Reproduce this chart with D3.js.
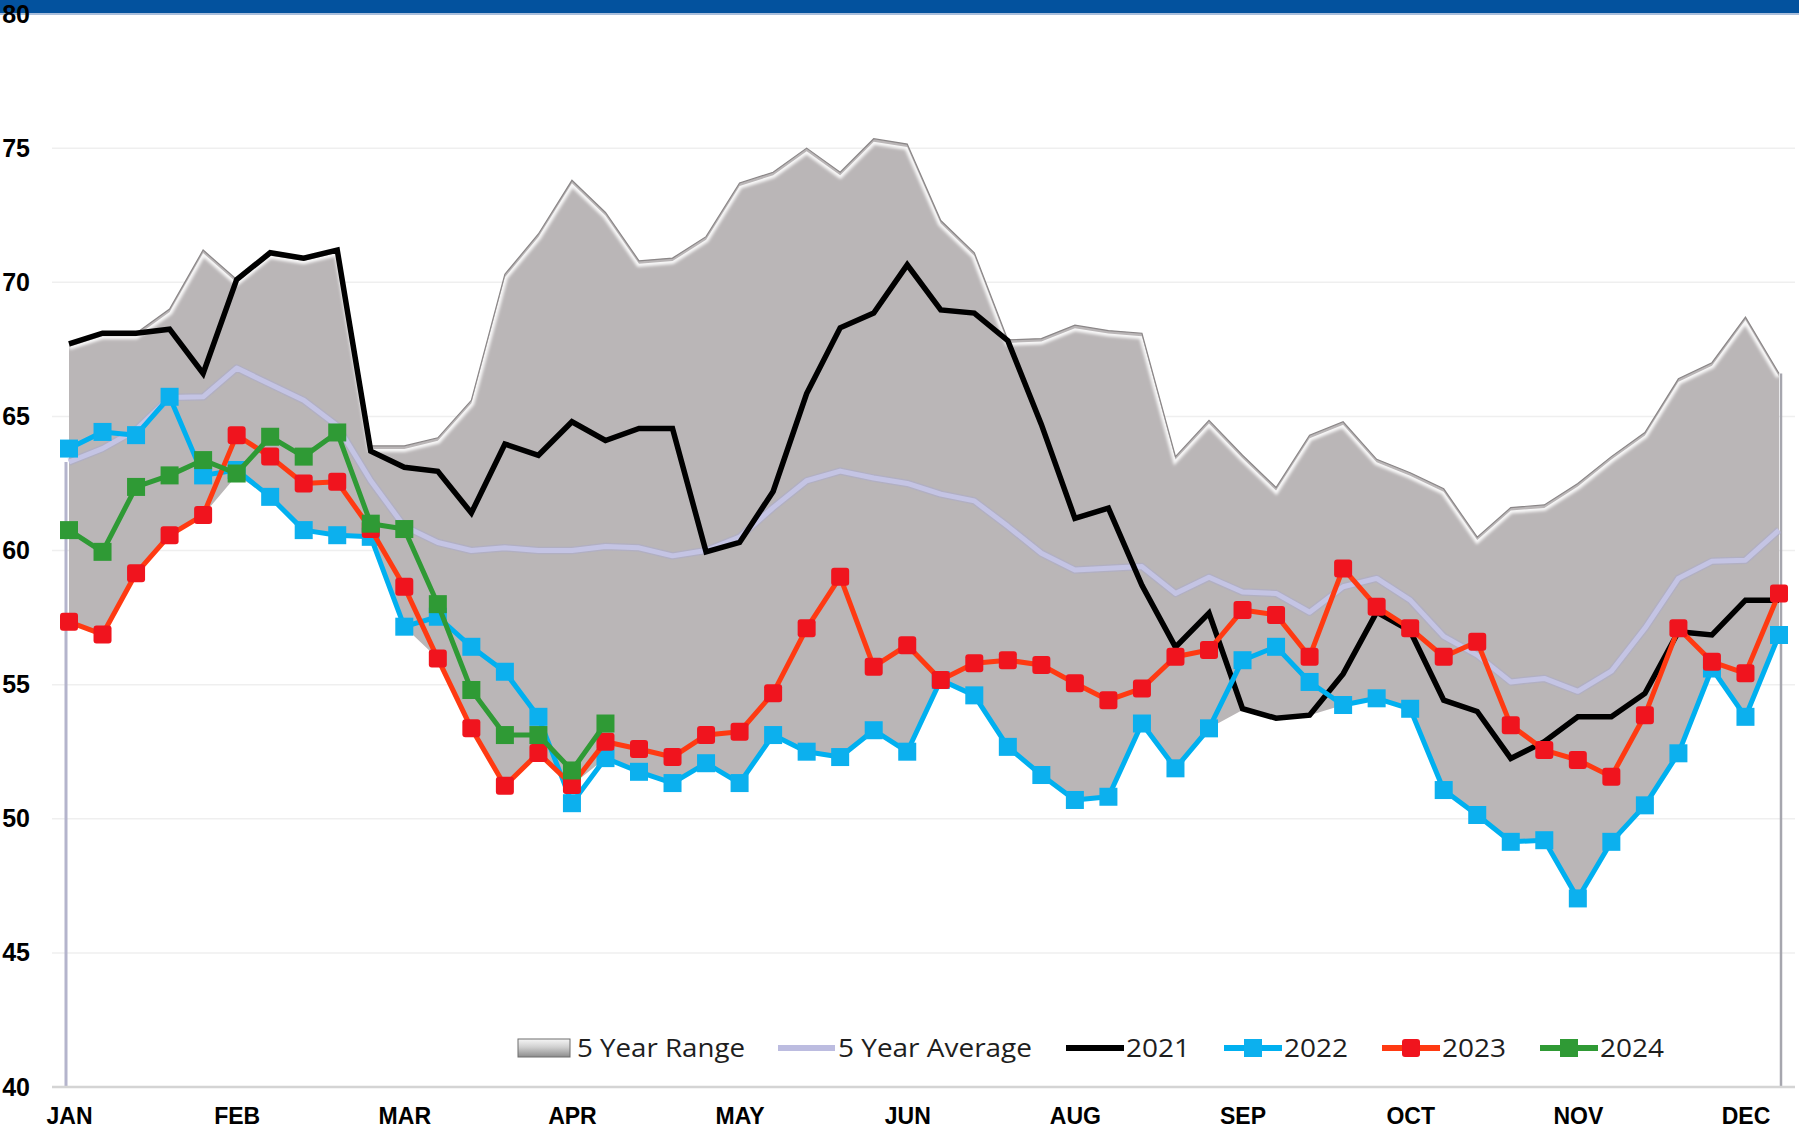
<!DOCTYPE html>
<html>
<head>
	<meta charset="utf-8">
	<title>5 year range chart</title>
	<script src="https://cdnjs.cloudflare.com/ajax/libs/d3/7.8.5/d3.min.js"></script>
	<style>
		body { margin: 0; background: white; }
		.axis text {
			font-family: "Liberation Sans", Arial, sans-serif;
			font-weight: bold;
			fill: black;
		}
		.yaxis text {
			font-family: "Liberation Sans Narrow", "Arial Narrow", "Liberation Sans", sans-serif;
		}
		.legend text {
			font-family: "Open Sans", "Noto Sans", sans-serif;
			font-size: 25px;
			fill: #1e1e1e;
		}
	</style>
</head>
<body>

	<svg id="main" width="1799" height="1132"></svg>

	<script>

		// weekly categories, 52 weeks
		var weeks = d3.range(1, 53);

		var monthLabels = ['JAN', 'FEB', 'MAR', 'APR', 'MAY', 'JUN', 'AUG', 'SEP', 'OCT', 'NOV', 'DEC'];
		var monthWeeks = [1, 6, 11, 16, 21, 26, 31, 36, 41, 46, 51];

		var yTicks = [40, 45, 50, 55, 60, 65, 70, 75, 80];

		var rangeHigh = [67.7, 68.1, 68.1, 69.0, 71.2, 70.1, 71.1, 70.9, 71.2, 63.9, 63.9, 64.2, 65.6, 70.3, 71.8, 73.8,
			72.6, 70.8, 70.9, 71.7, 73.7, 74.1, 75.0, 74.1, 75.35, 75.15, 72.3, 71.1, 67.85, 67.9, 68.4, 68.2,
			68.1, 63.5, 64.85, 63.55, 62.35, 64.3, 64.8, 63.4, 62.9, 62.3, 60.5, 61.6, 61.7, 62.5, 63.5, 64.4,
			66.4, 67.0, 68.7, 66.6];

		var rangeLow = [57.34, 56.87, 59.15, 60.57, 61.32, 62.8, 62.0, 60.76, 60.57, 60.51, 57.16, 55.97, 53.37, 51.23,
			52.45, 51.26, 52.26, 51.75, 51.33, 52.07, 51.33, 53.12, 52.5, 52.3, 53.3, 52.5, 55.17, 54.6, 52.68,
			51.63, 50.7, 50.82, 53.55, 51.88, 53.37, 54.05, 53.75, 53.86, 54.24, 54.49, 54.1, 51.07, 50.14, 49.14,
			49.2, 47.03, 49.14, 50.5, 52.44, 55.6, 53.8, 56.85];

		var avg5 = [63.3, 63.8, 64.5, 65.7, 65.73, 66.8, 66.2, 65.6, 64.65, 62.6, 60.9, 60.3, 60.0, 60.1, 60.0, 60.0,
			60.15, 60.1, 59.8, 60.0, 60.5, 61.6, 62.6, 62.96, 62.7, 62.5, 62.1, 61.85, 60.9, 59.9, 59.27, 59.34,
			59.4, 58.4, 59.0, 58.45, 58.4, 57.7, 58.65, 58.96, 58.15, 56.8, 56.1, 55.1, 55.23, 54.75, 55.5, 57.1,
			58.96, 59.6, 59.64, 60.76];

		var y2021 = [67.7, 68.1, 68.1, 68.25, 66.6, 70.1, 71.1, 70.9, 71.2, 63.7, 63.1, 62.95, 61.4, 63.97, 63.55, 64.8,
			64.1, 64.55, 64.55, 59.95, 60.3, 62.2, 65.85, 68.3, 68.85, 70.65, 68.97, 68.85, 67.82, 64.7, 61.2, 61.58,
			58.7, 56.4, 57.67, 54.1, 53.75, 53.86, 55.4, 57.7, 57.0, 54.42, 54.0, 52.25, 52.87, 53.8, 53.8, 54.67,
			56.97, 56.85, 58.15, 58.15];

		var y2022 = [63.8, 64.42, 64.3, 65.73, 62.8, 63.0, 62.0, 60.76, 60.57, 60.51, 57.16, 57.53, 56.41, 55.48, 53.8,
			50.58, 52.26, 51.75, 51.33, 52.07, 51.33, 53.12, 52.5, 52.3, 53.3, 52.5, 55.17, 54.6, 52.68, 51.63, 50.7,
			50.82, 53.55, 51.88, 53.37, 55.91, 56.41, 55.1, 54.24, 54.49, 54.1, 51.07, 50.14, 49.14, 49.2, 47.03,
			49.14, 50.5, 52.44, 55.6, 53.8, 56.85];

		var y2023 = [57.34, 56.87, 59.15, 60.57, 61.32, 64.3, 63.5, 62.5, 62.56, 60.8, 58.65, 55.97, 53.37, 51.23, 52.45,
			51.26, 52.87, 52.6, 52.3, 53.12, 53.24, 54.68, 57.1, 59.02, 55.67, 56.47, 55.17, 55.8, 55.91, 55.73, 55.05,
			54.42, 54.86, 56.04, 56.29, 57.78, 57.6, 56.04, 59.33, 57.9, 57.1, 56.04, 56.6, 53.49, 52.56, 52.19,
			51.57, 53.86, 57.1, 55.85, 55.42, 58.4];

		var y2024 = [60.76, 59.95, 62.37, 62.8, 63.37, 62.87, 64.24, 63.5, 64.4, 61.0, 60.8, 58.0, 54.8, 53.12, 53.12,
			51.8, 53.55];

		var LEFT = 52, RIGHT = 1795;

		var svg = d3.select('#main');

		var x = d3.scalePoint().domain(weeks).range([69, 1779]);
		var y = d3.scaleLinear().domain([40, 80]).range([1087, 14]);

		var defs = svg.append('defs');

		var blur = defs.append('filter').attr('id', 'soft')
			.attr('x', '-5%').attr('y', '-5%').attr('width', '110%').attr('height', '110%');
		blur.append('feGaussianBlur').attr('stdDeviation', 1.8);

		var grad = defs.append('linearGradient').attr('id', 'swatch')
			.attr('x1', 0).attr('y1', 0).attr('x2', 0).attr('y2', 1);
		grad.append('stop').attr('offset', '0%').attr('stop-color', '#f6f6f6');
		grad.append('stop').attr('offset', '45%').attr('stop-color', '#d0d0d0');
		grad.append('stop').attr('offset', '100%').attr('stop-color', '#8c8c8c');

		// gridlines
		svg.append('g').selectAll('line')
			.data(yTicks.slice(1, -1))
			.enter().append('line')
			.attr('x1', LEFT).attr('x2', RIGHT)
			.attr('y1', function(d) { return y(d); })
			.attr('y2', function(d) { return y(d); })
			.attr('stroke', '#efefef')
			.attr('stroke-width', 1.5);

		// 5 year range
		var rangeData = weeks.map(function(w, i) {
			return { w: w, lo: rangeLow[i], hi: rangeHigh[i] };
		});

		var area = d3.area()
			.x(function(d) { return x(d.w); })
			.y0(function(d) { return y(d.lo); })
			.y1(function(d) { return y(d.hi); });

		defs.append('clipPath').attr('id', 'rangeClip')
			.append('path').attr('d', area(rangeData));

		svg.append('path')
			.attr('d', area(rangeData))
			.attr('fill', '#bab6b7');

		var topLine = d3.line()
			.x(function(d) { return x(d.w); })
			.y(function(d) { return y(d.hi); });

		// bevel highlight along the upper edge
		svg.append('path')
			.attr('d', topLine(rangeData))
			.attr('clip-path', 'url(#rangeClip)')
			.attr('transform', 'translate(0,3)')
			.attr('fill', 'none')
			.attr('stroke', 'white')
			.attr('stroke-opacity', 0.9)
			.attr('stroke-width', 6)
			.attr('filter', 'url(#soft)');

		svg.append('path')
			.attr('d', topLine(rangeData))
			.attr('fill', 'none')
			.attr('stroke', '#8a8687')
			.attr('stroke-width', 1.2);

		// edge lines down to the axis
		svg.append('line')
			.attr('x1', x(weeks[0]) - 3).attr('x2', x(weeks[0]) - 3)
			.attr('y1', y(avg5[0])).attr('y2', y(40))
			.attr('stroke', '#b4b4cc').attr('stroke-width', 3);

		svg.append('line')
			.attr('x1', x(weeks[51]) + 2).attr('x2', x(weeks[51]) + 2)
			.attr('y1', y(rangeHigh[51])).attr('y2', y(40))
			.attr('stroke', '#a6a6ae').attr('stroke-width', 2.5);

		// baseline
		svg.append('line')
			.attr('x1', LEFT).attr('x2', RIGHT)
			.attr('y1', y(40)).attr('y2', y(40))
			.attr('stroke', '#d4d4d4').attr('stroke-width', 2.5);

		var line = d3.line()
			.x(function(d, i) { return x(weeks[i]); })
			.y(function(d) { return y(d); });

		// 5 year average
		svg.append('path')
			.attr('d', line(avg5))
			.attr('fill', 'none')
			.attr('stroke', '#a9a9cc')
			.attr('stroke-width', 7.5)
			.attr('stroke-opacity', 0.55)
			.attr('stroke-linejoin', 'round');
		svg.append('path')
			.attr('d', line(avg5))
			.attr('fill', 'none')
			.attr('stroke', '#c4c4e4')
			.attr('stroke-width', 5)
			.attr('stroke-linejoin', 'round');

		// 2021
		svg.append('path')
			.attr('d', line(y2021))
			.attr('fill', 'none')
			.attr('stroke', 'black')
			.attr('stroke-width', 5.5)
			.attr('stroke-linejoin', 'miter');

		var MARK = 18;

		function drawSeries(values, lineColor, markColor, rx) {
			svg.append('path')
				.attr('d', line(values))
				.attr('fill', 'none')
				.attr('stroke', lineColor)
				.attr('stroke-width', 5)
				.attr('stroke-linejoin', 'round');

			svg.append('g').selectAll('rect')
				.data(values)
				.enter().append('rect')
				.attr('x', function(d, i) { return x(weeks[i]) - MARK / 2; })
				.attr('y', function(d) { return y(d) - MARK / 2; })
				.attr('width', MARK)
				.attr('height', MARK)
				.attr('rx', rx)
				.attr('fill', markColor);
		}

		drawSeries(y2022, '#00b0f0', '#0cb0ee', 0);
		drawSeries(y2023, '#ff3a12', '#f0141e', 3);
		drawSeries(y2024, '#2f9a35', '#2f9a35', 0);

		// top bar
		svg.append('rect').attr('x', 0).attr('y', 0).attr('width', 1799).attr('height', 13).attr('fill', '#03529e');
		svg.append('rect').attr('x', 0).attr('y', 13).attr('width', 1799).attr('height', 2).attr('fill', '#a9bedb');

		// axes
		var yAxis = svg.append('g')
			.attr('class', 'axis yaxis')
			.attr('transform', 'translate(30,0)')
			.call(d3.axisLeft(y).tickValues(yTicks).tickSize(0).tickPadding(0));
		yAxis.select('.domain').remove();
		yAxis.selectAll('text').style('font-size', '25px');

		var xAxis = svg.append('g')
			.attr('class', 'axis')
			.attr('transform', 'translate(0,' + y(40) + ')')
			.call(d3.axisBottom(x).tickValues(monthWeeks).tickSize(0).tickPadding(21)
				.tickFormat(function(d, i) { return monthLabels[i]; }));
		xAxis.select('.domain').remove();
		xAxis.selectAll('text').style('font-size', '23px');

		// legend
		var legend = svg.append('g').attr('class', 'legend');
		var LY = 1048;

		legend.append('rect')
			.attr('x', 518).attr('y', LY - 9).attr('width', 52).attr('height', 18)
			.attr('fill', 'url(#swatch)').attr('stroke', '#6e6e6e').attr('stroke-width', 1);
		legend.append('text').attr('x', 577).attr('y', LY + 9)
			.attr('textLength', 168).attr('lengthAdjust', 'spacingAndGlyphs').text('5 Year Range');

		legend.append('line').attr('x1', 778).attr('x2', 835).attr('y1', LY).attr('y2', LY)
			.attr('stroke', '#bcbce0').attr('stroke-width', 6);
		legend.append('text').attr('x', 838).attr('y', LY + 9)
			.attr('textLength', 194).attr('lengthAdjust', 'spacingAndGlyphs').text('5 Year Average');

		var yearItems = [
			{ name: '2021', line: 'black', mark: null, rx: 0 },
			{ name: '2022', line: '#00b0f0', mark: '#0cb0ee', rx: 0 },
			{ name: '2023', line: '#ff3a12', mark: '#f0141e', rx: 3 },
			{ name: '2024', line: '#2f9a35', mark: '#2f9a35', rx: 0 }
		];

		yearItems.forEach(function(item, i) {
			var x0 = 1066 + i * 158;
			legend.append('line').attr('x1', x0).attr('x2', x0 + 58).attr('y1', LY).attr('y2', LY)
				.attr('stroke', item.line).attr('stroke-width', 6);
			if (item.mark) {
				legend.append('rect')
					.attr('x', x0 + 29 - MARK / 2).attr('y', LY - MARK / 2)
					.attr('width', MARK).attr('height', MARK).attr('rx', item.rx)
					.attr('fill', item.mark);
			}
			legend.append('text').attr('x', x0 + 60).attr('y', LY + 9)
				.attr('textLength', 64).attr('lengthAdjust', 'spacingAndGlyphs').text(item.name);
		});

	</script>
</body>
</html>
